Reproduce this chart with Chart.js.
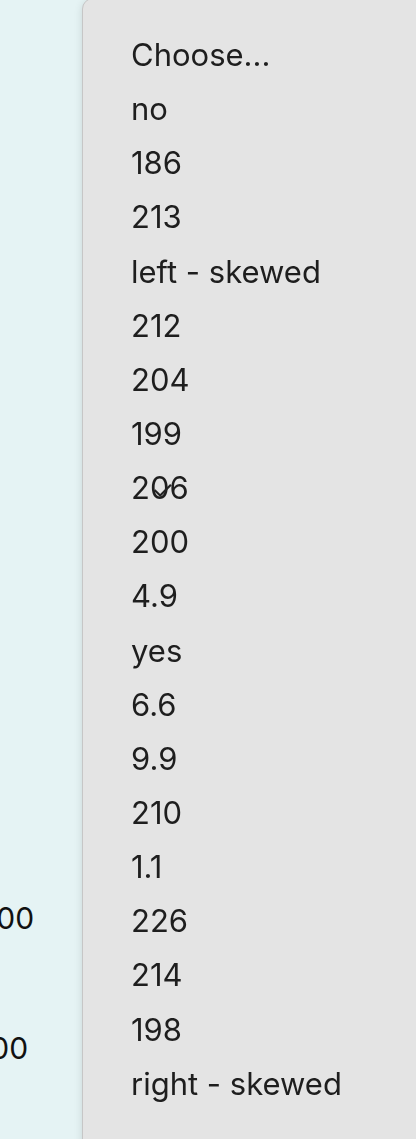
<!DOCTYPE html>
<html><head><meta charset="utf-8">
<script src="https://cdn.jsdelivr.net/npm/chart.js@4"></script>
<style>
html,body{margin:0;padding:0;width:416px;height:1139px;overflow:hidden;background:#e5f3f4;font-family:Inter,"Noto Sans",sans-serif}
.bg{position:absolute;left:-22px;font-size:30px;color:#111}
#panel{position:absolute;left:82px;top:-2px;width:360px;height:1160px;background:#e4e4e4;border:1px solid #c6c6c6;border-radius:11px;box-shadow:0 2px 8px rgba(0,0,0,.12)}
#menu{position:absolute;left:82px;top:11px}
</style></head><body>
<div class="bg" style="top:900px">200</div>
<div class="bg" style="top:1030px">100</div>
<div id="panel"></div>
<canvas id="menu" width="334" height="1120"></canvas>
<script>
// menu entries, top to bottom
let options  = ["Choose...", "no", "186", "213", "left - skewed", "212", "204", "199", "206", "200", "4.9", "yes", "6.6", "9.9", "210", "1.1", "226", "214", "198", "right - skewed"];
let selected = "206";

const checkMark = {
	id: 'checkMark',
	afterDraw(chart) {
		let y = chart.scales.y.getPixelForValue( options.indexOf( selected ) );
		let ctx = chart.ctx;
		ctx.save();
		ctx.font = "26px Inter, 'DejaVu Sans'";
		ctx.fillStyle = "#222";
		ctx.textBaseline = "middle";
		ctx.fillText( "\u2713", 20, y + 1 );
		ctx.restore();
	}
};

new Chart(
	document.getElementById( "menu" ),
	{
		type: 'bar',
		data: {
			labels: options,
			datasets: [{ data: options.map( () => 0 ), backgroundColor: "rgba(0,0,0,0)" }]
		},
		options: {
			indexAxis: 'y',
			responsive: false,
			maintainAspectRatio: false,
			animation: false,
			layout: { padding: 0 },
			plugins: { legend: { display: false }, tooltip: { enabled: false } },
			scales: {
				x: { display: false },
				y: {
					afterFit: axis => { axis.width = 320; },
					grid: { display: false },
					border: { display: false },
					ticks: {
						crossAlign: 'far',
						padding: 0,
						autoSkip: false,
						color: "#1e1e1e",
						font: { family: "Inter, 'Noto Sans', sans-serif", size: 31 },
						callback: (v, i) => "\u2007".repeat(0) + options[i]
					}
				}
			}
		},
		plugins: [checkMark, {
			id: 'shiftLabels',
			beforeDraw(chart) { chart.ctx.translate( 49, 0 ); },
			afterDraw(chart) { chart.ctx.translate( -49, 0 ); }
		}]
	}
);
</script>
</body></html>
